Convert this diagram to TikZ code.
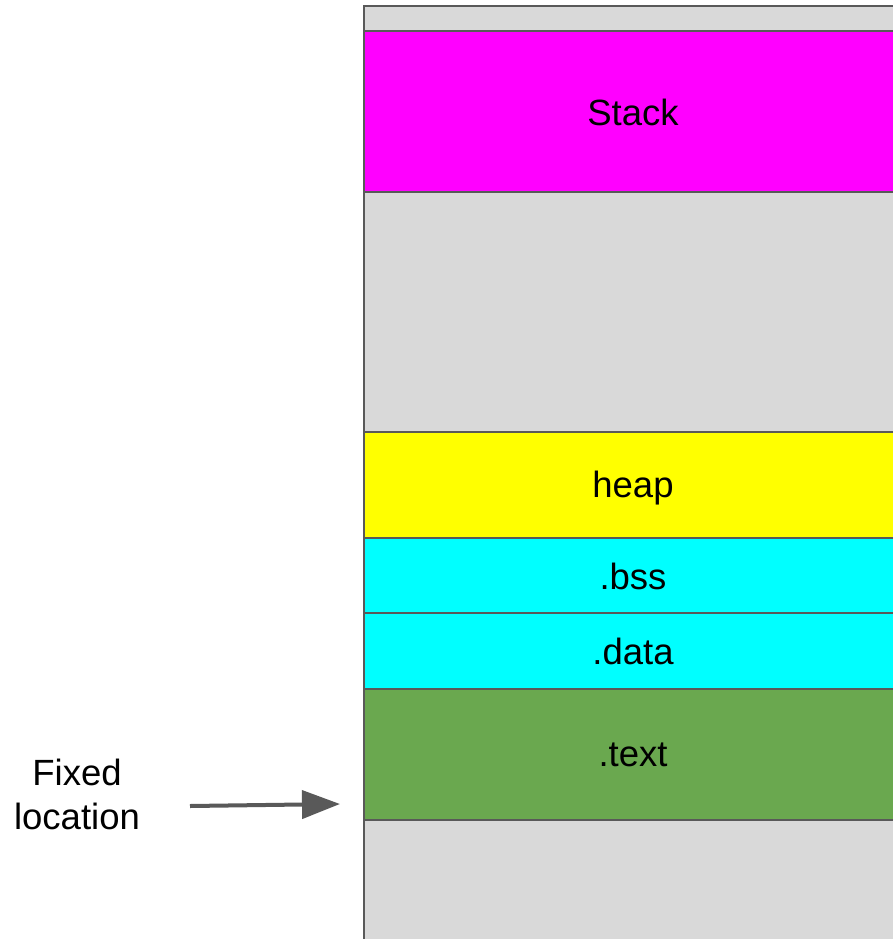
\documentclass[tikz,border=0pt]{standalone}
\usepackage{fontspec}
\setmainfont{Liberation Sans}
\usetikzlibrary{arrows.meta}
\definecolor{segline}{HTML}{595959}
\definecolor{memgray}{HTML}{D9D9D9}
\definecolor{stackc}{HTML}{FF00FF}
\definecolor{heapc}{HTML}{FFFF00}
\definecolor{datac}{HTML}{00FFFF}
\definecolor{textc}{HTML}{6AA84F}
\begin{document}
\begin{tikzpicture}[x=1pt,y=-1pt,
	seg/.style={draw=segline,line width=2pt},
	lbl/.style={font=\fontsize{36.5}{44}\selectfont,align=center},
	arr/.style={draw=segline,line width=4pt,-{Triangle[length=38pt,width=28pt]}}]
	\useasboundingbox(0,0)rectangle(893,939);
	\clip(0,0)rectangle(893,939);
	% memory column, top to bottom
	\draw[seg,fill=memgray](364,6)rectangle(900,31);
	\draw[seg,fill=stackc](364,31)rectangle(900,192);
	\draw[seg,fill=memgray](364,192)rectangle(900,432);
	\draw[seg,fill=heapc](364,432)rectangle(900,538);
	\draw[seg,fill=datac](364,538)rectangle(900,613);
	\draw[seg,fill=datac](364,613)rectangle(900,689);
	\draw[seg,fill=textc](364,689)rectangle(900,820);
	\draw[seg,fill=memgray](364,820)rectangle(900,960);
	\node[lbl](stack)at(633,112){Stack};
	\node[lbl](heap)at(633,488){heap};
	\node[lbl](bss)at(633,576){.bss};
	\node[lbl](data)at(633,651){.data};
	\node[lbl](text)at(633,755){.text};
	% fixed location marker
	\node[lbl](fixed)at(77,794){Fixed\\location};
	\coordinate(tail)at(190,806);
	\coordinate(tip)at(340,804);
	\draw[arr](tail)--(tip);
\end{tikzpicture}
\end{document}
